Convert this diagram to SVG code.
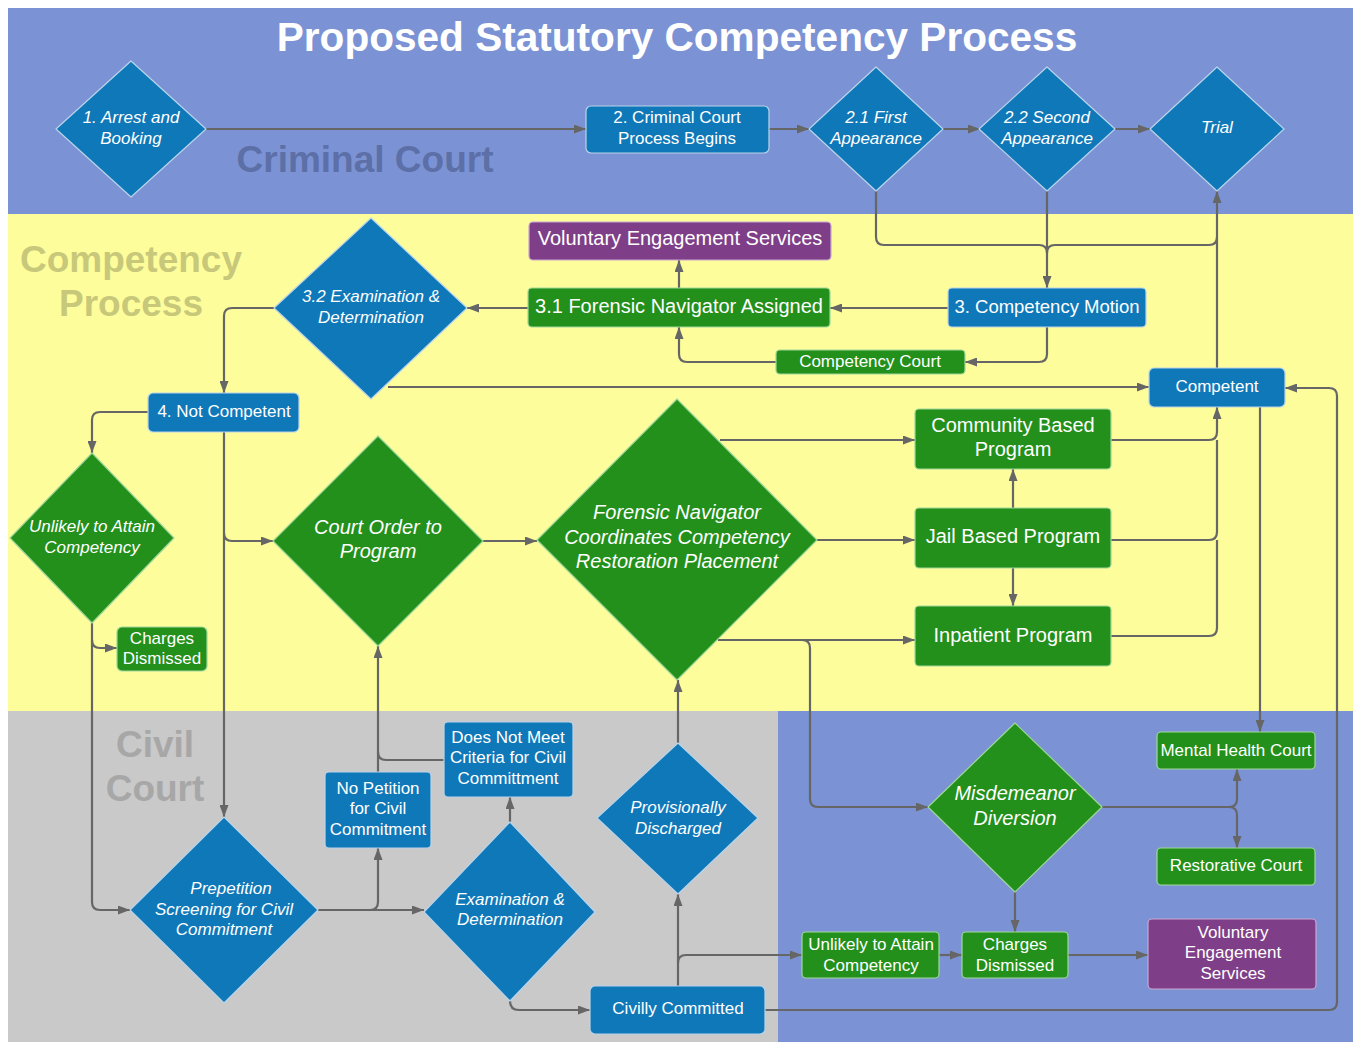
<svg xmlns="http://www.w3.org/2000/svg" width="1353" height="1042" viewBox="0 0 1353 1042">
<defs>
<marker id="ah" markerUnits="userSpaceOnUse" markerWidth="12" markerHeight="9" refX="12" refY="4.5" orient="auto">
<path d="M0,0 L12,4.5 L0,9 z" fill="#666"/>
</marker>
<style>
.blue{fill:#0f78b8;stroke:#b9d4ea;stroke-width:1.2;stroke-linejoin:round}
.green{fill:#22901b;stroke:#9fd79a;stroke-width:1.2;stroke-linejoin:round}
.purple{fill:#7e3f88;stroke:#c9a6d2;stroke-width:1.2}
text{font-family:"Liberation Sans",Arial,sans-serif;fill:#fff;text-anchor:middle}
.s{font-size:17px}
.m{font-size:20px}
.i{font-style:italic}
.bg{font-weight:bold;font-size:37px}
.c{fill:none;stroke:#666;stroke-width:2.2}
.a{marker-end:url(#ah)}
</style>
</defs>
<rect x="0" y="0" width="1353" height="1042" fill="#fff"/>
<rect x="8" y="8" width="1345" height="206" fill="#7b93d5"/>
<rect x="8" y="214" width="1345" height="497" fill="#fdfd9b"/>
<rect x="8" y="711" width="770" height="331" fill="#c9c9c9"/>
<rect x="778" y="711" width="575" height="331" fill="#7b93d5"/>

<text x="677" y="51" style="font-size:40.6px;font-weight:bold">Proposed Statutory Competency Process</text>
<text class="bg" x="365" y="172" style="fill:#5c6fa6">Criminal Court</text>
<text class="bg" x="131" y="272" style="fill:#c8c87b">Competency</text>
<text class="bg" x="131" y="316" style="fill:#c8c87b">Process</text>
<text class="bg" x="155" y="757" style="fill:#a7a7a7">Civil</text>
<text class="bg" x="155" y="801" style="fill:#a7a7a7">Court</text>

<g id="connectors">
<path class="c a" d="M206,129 H586"/>
<path class="c a" d="M769,129 H809"/>
<path class="c a" d="M943,129 H980"/>
<path class="c a" d="M1115,129 H1150"/>
<path class="c" d="M876,191 V237 Q876,245 884,245 H1039 Q1047,245 1047,253"/>
<path class="c a" d="M1047,191 V288"/>
<path class="c" d="M1217,237 Q1217,245 1209,245 H1055 Q1047,245 1047,253"/>
<path class="c a" d="M1217,368 V191"/>
<path class="c a" d="M948,308 H830"/>
<path class="c a" d="M528,308 H467"/>
<path class="c a" d="M679,288 V260"/>
<path class="c a" d="M1047,327 V354 Q1047,362 1039,362 H965"/>
<path class="c a" d="M776,362 H687 Q679,362 679,354 V327"/>
<path class="c a" d="M274,308 H232 Q224,308 224,316 V393"/>
<path class="c a" d="M388,387 H1149"/>
<path class="c a" d="M148,412 H100 Q92,412 92,420 V453"/>
<path class="c a" d="M224,432 V817"/>
<path class="c a" d="M224,533 Q224,541 232,541 H273"/>
<path class="c a" d="M92,623 V902 Q92,910 100,910 H130"/>
<path class="c a" d="M92,640 Q92,648 100,648 H117"/>
<path class="c a" d="M483,541 H537"/>
<path class="c a" d="M720,440 H915"/>
<path class="c a" d="M817,540 H915"/>
<path class="c a" d="M718,640 H915"/>
<path class="c a" d="M802,640 Q810,640 810,648 V799 Q810,807 818,807 H928"/>
<path class="c a" d="M1013,508 V469"/>
<path class="c a" d="M1013,568 V606"/>
<path class="c a" d="M1111,440 H1209 Q1217,440 1217,432 V407"/>
<path class="c" d="M1111,540 H1209 Q1217,540 1217,532 V440"/>
<path class="c" d="M1111,636 H1209 Q1217,636 1217,628 V540"/>
<path class="c a" d="M1260,407 V732"/>
<path class="c a" d="M765,1010 H1329 Q1337,1010 1337,1002 V396 Q1337,388 1329,388 H1285"/>
<path class="c a" d="M1102,807 H1229 Q1237,807 1237,799 V769"/>
<path class="c a" d="M1229,807 Q1237,807 1237,815 V848"/>
<path class="c a" d="M1015,892 V932"/>
<path class="c a" d="M939,955 H962"/>
<path class="c a" d="M1068,955 H1148"/>
<path class="c a" d="M678,986 V894"/>
<path class="c a" d="M678,963 Q678,955 686,955 H802"/>
<path class="c a" d="M678,743 V680"/>
<path class="c a" d="M510,1001 Q510,1010 519,1010 H590"/>
<path class="c a" d="M510,822 V797"/>
<path class="c a" d="M318,910 H424"/>
<path class="c a" d="M370,910 Q378,910 378,902 V848"/>
<path class="c a" d="M378,772 V646"/>
<path class="c" d="M444,760 H386 Q378,760 378,752"/>
</g>

<g id="n-arrest"><polygon class="blue" points="131,61 206,129 131,197 56,129"/>
<text class="s i" x="131" y="123">1. Arrest and</text><text class="s i" x="131" y="144">Booking</text></g>
<g id="n-ccpb"><rect class="blue" x="586" y="106" width="183" height="47" rx="5"/>
<text class="s" x="677" y="123">2. Criminal Court</text><text class="s" x="677" y="144">Process Begins</text></g>
<g id="n-first"><polygon class="blue" points="876,67 943,129 876,191 809,129"/>
<text class="s i" x="876" y="123">2.1 First</text><text class="s i" x="876" y="144">Appearance</text></g>
<g id="n-second"><polygon class="blue" points="1047,67 1115,129 1047,191 979,129"/>
<text class="s i" x="1047" y="123">2.2 Second</text><text class="s i" x="1047" y="144">Appearance</text></g>
<g id="n-trial"><polygon class="blue" points="1217,67 1284,129 1217,191 1150,129"/>
<text class="s i" x="1217" y="133">Trial</text></g>

<g id="n-ves1"><rect class="purple" x="529" y="222" width="302" height="38" rx="4"/>
<text class="m" x="680" y="245">Voluntary Engagement Services</text></g>
<g id="n-fna"><rect class="green" x="528" y="288" width="302" height="39" rx="4"/>
<text class="m" x="679" y="313">3.1 Forensic Navigator Assigned</text></g>
<g id="n-motion"><rect class="blue" x="948" y="288" width="198" height="39" rx="4"/>
<text x="1047" y="313" style="font-size:18.5px">3. Competency Motion</text></g>
<g id="n-ccourt"><rect class="green" x="776" y="350" width="189" height="24" rx="4"/>
<text class="s" x="870" y="367">Competency Court</text></g>
<g id="n-exam32"><polygon class="blue" points="371,218 467,308 371,399 274,308"/>
<text class="s i" x="371" y="302">3.2 Examination &amp;</text><text class="s i" x="371" y="323">Determination</text></g>
<g id="n-competent"><rect class="blue" x="1149" y="368" width="136" height="39" rx="5"/>
<text class="s" x="1217" y="392">Competent</text></g>
<g id="n-notcomp"><rect class="blue" x="148" y="393" width="151" height="39" rx="5"/>
<text class="s" x="224" y="417">4. Not Competent</text></g>
<g id="n-unlikely1"><polygon class="green" points="92,453 174,538 92,623 10,538"/>
<text class="s i" x="92" y="532">Unlikely to Attain</text><text class="s i" x="92" y="553">Competency</text></g>
<g id="n-dismissed1"><rect class="green" x="117" y="627" width="90" height="44" rx="5"/>
<text class="s" x="162" y="644">Charges</text><text class="s" x="162" y="664">Dismissed</text></g>
<g id="n-courtorder"><polygon class="green" points="378,436 483,541 378,646 273,541"/>
<text class="m i" x="378" y="534">Court Order to</text><text class="m i" x="378" y="558">Program</text></g>
<g id="n-fncoord"><polygon class="green" points="677,399 817,540 677,680 537,540"/>
<text class="m i" x="677" y="519">Forensic Navigator</text><text class="m i" x="677" y="544">Coordinates Competency</text><text class="m i" x="677" y="568">Restoration Placement</text></g>
<g id="n-community"><rect class="green" x="915" y="409" width="196" height="60" rx="4"/>
<text class="m" x="1013" y="432">Community Based</text><text class="m" x="1013" y="456">Program</text></g>
<g id="n-jail"><rect class="green" x="915" y="508" width="196" height="60" rx="4"/>
<text class="m" x="1013" y="543">Jail Based Program</text></g>
<g id="n-inpatient"><rect class="green" x="915" y="606" width="196" height="60" rx="4"/>
<text class="m" x="1013" y="642">Inpatient Program</text></g>

<g id="n-mhc"><rect class="green" x="1157" y="732" width="158" height="37" rx="4"/>
<text class="s" x="1236" y="756">Mental Health Court</text></g>
<g id="n-restorative"><rect class="green" x="1157" y="848" width="158" height="37" rx="4"/>
<text class="s" x="1236" y="871">Restorative Court</text></g>
<g id="n-misd"><polygon class="green" points="1015,723 1102,807 1015,892 928,807"/>
<text class="m i" x="1015" y="800">Misdemeanor</text><text class="m i" x="1015" y="825">Diversion</text></g>
<g id="n-ves2"><rect class="purple" x="1148" y="919" width="168" height="70" rx="4"/>
<text class="s" x="1233" y="938">Voluntary</text><text class="s" x="1233" y="958">Engagement</text><text class="s" x="1233" y="979">Services</text></g>
<g id="n-dismissed2"><rect class="green" x="962" y="932" width="106" height="46" rx="4"/>
<text class="s" x="1015" y="950">Charges</text><text class="s" x="1015" y="971">Dismissed</text></g>
<g id="n-unlikely2"><rect class="green" x="802" y="932" width="137" height="46" rx="4"/>
<text class="s" x="871" y="950">Unlikely to Attain</text><text class="s" x="871" y="971">Competency</text></g>
<g id="n-civcommitted"><rect class="blue" x="590" y="986" width="175" height="48" rx="5"/>
<text class="s" x="678" y="1014">Civilly Committed</text></g>
<g id="n-provdis"><polygon class="blue" points="678,743 758,818 678,894 597,818"/>
<text class="s i" x="678" y="813">Provisionally</text><text class="s i" x="678" y="834">Discharged</text></g>
<g id="n-examcivil"><polygon class="blue" points="510,822 595,912 510,1001 424,912"/>
<text class="s i" x="510" y="905">Examination &amp;</text><text class="s i" x="510" y="925">Determination</text></g>
<g id="n-dnm"><rect class="blue" x="444" y="722" width="129" height="75" rx="4"/>
<text class="s" x="508" y="743">Does Not Meet</text><text class="s" x="508" y="763">Criteria for Civil</text><text class="s" x="508" y="784">Committment</text></g>
<g id="n-nopet"><rect class="blue" x="325" y="772" width="106" height="76" rx="4"/>
<text class="s" x="378" y="794">No Petition</text><text class="s" x="378" y="814">for Civil</text><text class="s" x="378" y="835">Commitment</text></g>
<g id="n-prepet"><polygon class="blue" points="224,817 318,910 224,1003 130,910"/>
<text class="s i" x="231" y="894">Prepetition</text><text class="s i" x="224" y="915">Screening for Civil</text><text class="s i" x="224" y="935">Commitment</text></g>
</svg>
